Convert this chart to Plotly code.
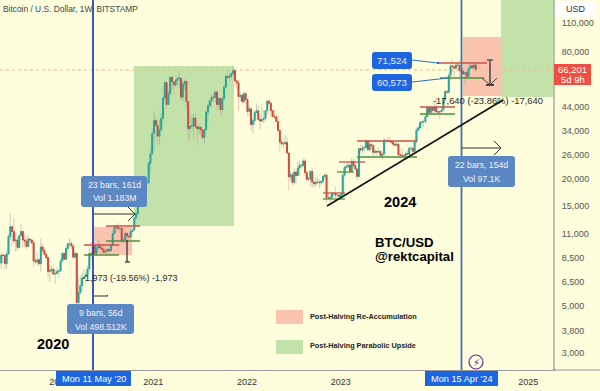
import math
import pandas as pd
import plotly.graph_objects as go

# Weekly BTC/USD candles (close, high, low per week)
first_open = 8000
closes = [
 # 2019, from 20 May
 8740,8700,7950,8850,10700,11900,11300,10200,10300,9500,10800,11300,10300,10150,9600,10400,10300,10000,8200,8100,
 8300,7950,9550,9200,8800,8500,7300,7400,7500,7100,7150,7300,7350,
 # 2020, from 6 Jan
 8180,8900,8350,9380,9900,9900,9650,8550,8900,5200,5800,6250,6800,6900,7050,7500,8900,8720,9680,8900,9450,9650,
 9450,9300,9000,9070,9300,9150,9700,11050,11900,11850,11650,11700,10250,10320,11080,10750,10670,11300,11500,13100,
 13750,15500,16000,18700,18200,19350,19200,23800,26400,33000,
 # 2021, from 4 Jan
 38000,36000,32000,34300,38900,48600,57400,45200,51000,60800,57800,55900,58800,60000,60300,49000,56500,58200,46700,
 34700,35600,35800,39000,35500,34700,35300,34200,31500,34300,41500,44600,47000,48900,48800,51800,45200,48300,42700,
 48200,54700,61500,60900,61300,63300,65500,58600,57300,49300,50000,46700,50800,47700,
 # 2022, from 3 Jan
 41900,43100,36300,37900,41400,42200,38400,37700,38400,38800,42200,46800,45800,42200,39700,39400,37600,34000,30000,
 29400,29400,29900,26600,20500,21000,19300,21600,20800,22600,23300,23200,24400,21500,20000,20000,21800,19400,19000,
 19300,19400,19250,19550,20600,20900,16300,16300,16400,17100,17100,16800,16800,16600,
 # 2023, from 2 Jan
 16950,20900,22700,23000,23300,21850,24300,23200,22350,20600,27900,27500,28100,28300,30300,27600,29200,28900,26800,
 27100,26900,27100,25900,26300,30500,30500,30300,30300,29900,29300,29000,29300,26100,26000,25900,25900,26500,26200,
 28000,28000,27100,30000,34100,35000,37100,37400,37500,39500,43800,41400,43700,42300,
 # 2024, from 1 Jan
 43900,41700,41600,41800,42600,48300,52100,51700,62000,68900,68400,67200,69500,69400,65700,64900,63100,64000,61400,
 66900,69000,67500,69600,66200,
]
highs = [
 8950,8950,8800,9200,11000,13800,12000,13100,11100,10650,10900,12300,11450,10950,10600,10900,10450,10350,10050,8500,
 8800,8400,10500,9900,9500,9000,8550,7850,7800,7500,7500,7700,7500,
 8450,9000,8800,9600,9900,10500,10250,9950,9200,8200,6900,6950,7200,7470,7300,7770,9480,10050,9950,9850,9750,10400,
 10000,9550,9800,9300,9450,9350,9800,11450,11900,12150,12400,11800,12050,10600,11200,11000,10950,11480,11700,13300,
 14100,15950,16500,18950,19450,19900,19450,24300,28400,34800,
 42000,40100,37800,38500,40900,49600,58300,57500,52700,61800,61000,58400,60200,61200,64900,57500,58200,59500,59500,
 46600,40900,39500,40900,41300,35500,36500,35100,34700,34700,42600,45300,48100,50500,50500,52900,52900,48800,48000,
 49200,56500,62900,67000,63700,64300,69000,66300,59500,59000,51900,50700,51800,52000,
 47900,44400,43500,38900,42600,45800,44800,40300,45300,42500,42400,47500,48200,47000,41500,42900,40800,40000,34200,
 31300,30500,32400,31800,26800,21800,21500,22500,21800,24300,24600,23500,25200,25000,21800,20600,21900,22700,19600,
 20400,20400,19950,19700,21000,21300,21400,17200,16800,17400,17400,18400,17000,16900,
 17050,21300,23300,23800,24250,23400,25250,25000,23900,22600,28000,29200,29000,28800,31000,30500,30000,29800,29000,
 27700,27400,28400,27400,26800,31400,31000,31500,31800,30400,30300,30000,30200,29700,26800,28100,26100,27000,27500,
 28500,28600,28000,30300,35200,35900,38000,38000,38400,40200,44700,43500,44300,43800,
 45900,49000,43200,42200,43900,48600,52800,52900,64000,70000,73800,68900,71500,71300,72800,66800,67300,64700,65500,
 67700,71900,70600,71900,70000,
]
lows = [
 7500,8000,7450,7500,8800,10300,9700,9900,9100,9150,9400,10900,9500,9500,9300,9700,9900,9600,7700,8000,
 7800,7800,7300,8900,8650,8350,6800,6500,7150,7000,6400,7100,6850,
 7700,8050,8250,8500,9100,9500,9300,8400,8400,3850,4450,5700,5860,6750,6450,6750,7600,8200,8100,8800,8650,9300,
 8950,8900,8830,8900,9100,8900,9150,9700,10950,11150,11400,11100,9900,9850,10200,10100,10350,10500,11200,11400,
 12900,13200,14800,15800,16200,18100,17600,19000,21800,26100,
 27700,30300,28800,29100,33400,37400,47000,43000,44900,49300,53000,50400,54700,55400,54000,47000,47000,52900,43000,
 30000,31100,34900,31100,34900,28800,32700,32100,31000,29300,34000,37300,42800,43900,46300,46500,42800,43400,39600,
 40600,47100,53800,59500,58000,59500,62300,55500,53300,42000,46800,45500,45500,45700,
 39700,39600,34000,32900,36300,41700,38000,34300,37400,37100,37600,40500,44200,39200,39200,38600,37600,33700,26700,
 28600,28000,29300,26500,17600,19600,18600,19000,18900,20700,20700,22400,22700,20700,19600,19600,18600,18300,18150,
 18500,19100,18200,18700,19200,20000,15600,16200,15500,16000,16700,16300,16300,16300,
 16500,17300,20400,22300,22500,21400,21500,22750,21900,19600,20500,26600,26500,27200,28200,27100,26950,27700,25800,
 26300,25900,26600,25400,24800,26200,29500,29700,30000,29500,28900,28600,28700,25300,25300,25300,24900,24900,26000,
 26000,27200,26500,26800,29900,33900,34500,34800,35600,36800,39500,40200,40500,41300,
 40800,41500,40300,38500,41900,42300,47700,50600,50900,59300,64500,60800,66400,64500,60700,59600,62400,56500,59900,
 60700,66600,66600,67600,65000,
]
first_week = "2019-05-20"
y_tick_values = [110000,80000,44000,34000,26000,20000,15000,11000,8500,6500,5000,3800,3000]
x_tick_dates = ["2020-01-01","2021-01-01","2022-01-01","2023-01-01","2025-01-01"]
x_tick_text = ["2020","2021","2022","2023","2025"]

BG = "#FEFDDC"
TEAL = "#26A69A"; RED = "#CC4A3C"
W, H = 553.0, 370.0
PX = lambda x: x / W
PY = lambda y: 1 - y / H

dates = pd.date_range(first_week, periods=len(closes), freq="7D")
opens = [first_open] + closes[:-1]
hi = [max(h, o, c) for h, o, c in zip(highs, opens, closes)]
lo = [min(l, o, c) for l, o, c in zip(lows, opens, closes)]
body_hi = [max(o, c) for o, c in zip(opens, closes)]
body_lo = [min(o, c) for o, c in zip(opens, closes)]

fig = go.Figure()
fig.add_trace(go.Candlestick(x=dates, open=opens, high=hi, low=lo, close=closes, opacity=0.5,
    increasing=dict(line=dict(color="#7FA89A", width=1), fillcolor="#7FA89A"),
    decreasing=dict(line=dict(color="#E0957F", width=1), fillcolor="#E0957F"),
    whiskerwidth=0, showlegend=False, hoverinfo="skip"))
fig.add_trace(go.Candlestick(x=dates, open=opens, high=body_hi, low=body_lo, close=closes,
    increasing=dict(line=dict(color=TEAL, width=1), fillcolor=TEAL),
    decreasing=dict(line=dict(color=RED, width=1), fillcolor=RED),
    whiskerwidth=0, showlegend=False))

shapes, annos = [], []
def rect(x0, y0, x1, y1, color, layer="below", opacity=1.0):
    shapes.append(dict(type="rect", xref="paper", yref="paper", x0=PX(x0), x1=PX(x1), y0=PY(y0), y1=PY(y1),
                       fillcolor=color, line=dict(width=0), layer=layer, opacity=opacity))
def box(x0, y0, x1, y1, color):
    r = 3
    path = (f"M {PX(x0+r)} {PY(y0)} L {PX(x1-r)} {PY(y0)} Q {PX(x1)} {PY(y0)} {PX(x1)} {PY(y0+r)} "
            f"L {PX(x1)} {PY(y1-r)} Q {PX(x1)} {PY(y1)} {PX(x1-r)} {PY(y1)} L {PX(x0+r)} {PY(y1)} "
            f"Q {PX(x0)} {PY(y1)} {PX(x0)} {PY(y1-r)} L {PX(x0)} {PY(y0+r)} Q {PX(x0)} {PY(y0)} {PX(x0+r)} {PY(y0)} Z")
    shapes.append(dict(type="path", xref="paper", yref="paper", path=path, fillcolor=color, line=dict(width=0), layer="above"))
def line(x0, y0, x1, y1, color, width=1.0, dash="solid", layer="above"):
    shapes.append(dict(type="line", xref="paper", yref="paper", x0=PX(x0), x1=PX(x1), y0=PY(y0), y1=PY(y1),
                       line=dict(color=color, width=width, dash=dash), layer=layer))
def text(x, y, s, size=8, color="#333333", anchor="left", font="Liberation Sans"):
    annos.append(dict(xref="paper", yref="paper", x=PX(x), y=PY(y), text=s, showarrow=False, xanchor=anchor,
                      yanchor="middle", font=dict(size=size, color=color, family=font), borderpad=0, borderwidth=0))

# zones
rect(134, 66, 234, 226, "#C3E2A9")
rect(501, 0, 553, 97, "#C3E2A9")
rect(94, 227, 132, 255, "#F9C3AD")
rect(463, 37, 501, 96, "#F9C3AD")
# last price line
line(0, 70, 553, 70, "#E6BE8C", 1, "dot", "below")
# halving lines
line(93, 0, 93, 370, "#2245BE", 1.8)
line(461.5, 0, 461.5, 370, "#4C6BB0", 1.8)
# support/resistance
SR_R, SR_G = "#C8524A", "#4E8F3C"
for x0, x1, y in [(84,119,245),(106,140,226),(323,345,193),(339,365,162),(357,417,141),(420,455,107),(438,487,63)]:
    line(x0, y, x1, y, SR_R, 1.3)
for x0, x1, y in [(84,119,255),(106,140,241),(323,345,199),(337,354,172),(357,417,157),(420,455,114),(440,484,78)]:
    line(x0, y, x1, y, SR_G, 1.3)
# trendline
line(327, 206, 503, 100, "#111111", 1.6)
# measures and arrows
line(127, 240, 127, 262, "#333333", 1.3); line(125, 262, 130, 262, "#333333", 1.3)
line(94, 214, 135, 214, "#333333", 1); line(128, 207, 135, 214, "#333333", 1); line(128, 221, 135, 214, "#333333", 1)
line(94, 296, 108, 296, "#333333", 1); line(107, 295, 108, 296, "#333333", 1)
line(462, 148, 501, 148, "#333333", 1); line(494, 141, 501, 148, "#333333", 1); line(494, 155, 501, 148, "#333333", 1)
line(490, 60, 490, 85, "#444444", 1.5); line(487, 60, 493, 60, "#444444", 1.3); line(486, 85, 494, 85, "#444444", 2)
line(482, 78, 490, 85, "#444444", 1); line(497, 78, 490, 85, "#444444", 1)
line(412, 60, 438, 63, "#2F6FCC", 1); line(412, 82, 448, 78, "#2F6FCC", 1)
rect(437, 62, 439, 64, "#1E66E0", "above")

# boxes with labels
BOX = "#5B87C2"; BRIGHT = "#1E66E0"
for x0, y0, x1, y1, a, b in [(81,176,147,207,"23 bars, 161d","Vol 1.183M"),
                             (67,304,134,334,"9 bars, 56d","Vol 498.512K"),
                             (448,156,515,187,"22 bars, 154d","Vol 97.1K")]:
    box(x0, y0, x1, y1, BOX)
    c = (x0 + x1) / 2
    text(c, y0 + 9, a, 8.7, "#F0F4FA", "center")
    text(c, y0 + 22.5, b, 8.7, "#F0F4FA", "center")
box(372, 52, 412, 69, BRIGHT); text(392, 60.5, "71,524", 9.8, "#E8F0FF", "center")
box(372, 74, 412, 91, BRIGHT); text(392, 82.5, "60,573", 9.8, "#E8F0FF", "center")
text(82, 278, "-1,973 (-19.56%) -1,973", 9, "#2A2A2A")
text(433, 100, "-17,640 (-23.86%) -17,640", 9.4, "#2A2A2A")
text(3, 9, "Bitcoin / U.S. Dollar, 1W, BITSTAMP", 8.4, "#444444")
text(37, 344, "<b>2020</b>", 14.5, "#000000")
text(384, 202, "<b>2024</b>", 14.5, "#000000")
text(375, 243, "<b>BTC/USD</b>", 13.2, "#000000")
text(375, 256.5, "<b>@rektcapital</b>", 13.2, "#000000")
rect(276, 310, 303, 324, "#F9C3AD"); rect(276, 340, 303, 354, "#C3E2A9")
text(310, 316, "<b>Post-Halving Re-Accumulation</b>", 7.3, "#222222")
text(310, 345, "<b>Post-Halving Parabolic Upside</b>", 7.3, "#222222")
# axis furniture
line(553, 370, 600, 370, "#999999", 1)
rect(556, 1, 595, 17, "#FFFFFF", "above")
text(575.5, 9, "USD", 9, "#333333", "center")
rect(554, 64, 591, 85, "#EE4F42", "above")
text(572.5, 69.5, "66,201", 9.5, "#FFFFFF", "center")
text(572.5, 79.5, "5d 9h", 9.5, "#FFFFFF", "center")
rect(56, 371, 131, 386, BRIGHT, "above"); text(93.5, 379, "Mon 11 May '20", 9.2, "#FFFFFF", "center")
rect(425, 371, 498, 386, BRIGHT, "above"); text(461.5, 379, "Mon 15 Apr '24", 9.2, "#FFFFFF", "center")
shapes.append(dict(type="circle", xref="paper", yref="paper", x0=PX(469), x1=PX(483), y0=PY(355), y1=PY(369),
                   line=dict(color="#6A2CA0", width=1.2), fillcolor=BG, layer="above"))
text(476, 362, "⚡", 10, "#6A2CA0", "center", "DejaVu Sans")

fig.update_layout(
    width=600, height=391, margin=dict(l=0, r=47, t=0, b=21),
    paper_bgcolor=BG, plot_bgcolor="rgba(0,0,0,0)", showlegend=False,
    shapes=shapes, annotations=annos,
    font=dict(family="Liberation Sans", size=8, color="#444444"),
    xaxis=dict(type="date", range=["2019-05-15", "2025-04-07"], rangeslider=dict(visible=False),
               tickmode="array", tickvals=x_tick_dates, ticktext=x_tick_text, showgrid=False, zeroline=False,
               showline=True, linecolor="#999999", linewidth=1, ticks="outside", ticklen=3, tickcolor="rgba(0,0,0,0)",
               tickfont=dict(size=9, color="#333333")),
    yaxis=dict(type="log", side="right", range=[math.log10(141400), math.log10(2492)][::-1],
               tickmode="array", tickvals=y_tick_values, ticktext=[f"{v:,}" for v in y_tick_values],
               showgrid=False, zeroline=False, showline=True, linecolor="#BDBDB0", linewidth=2,
               ticks="outside", ticklen=5, tickcolor="rgba(0,0,0,0)", tickfont=dict(size=9, color="#555555")),
)
fig.write_html("out.html", config=dict(displayModeBar=False),
               post_script="document.body.style.margin='0';document.documentElement.style.background='#FEFDDC';")
